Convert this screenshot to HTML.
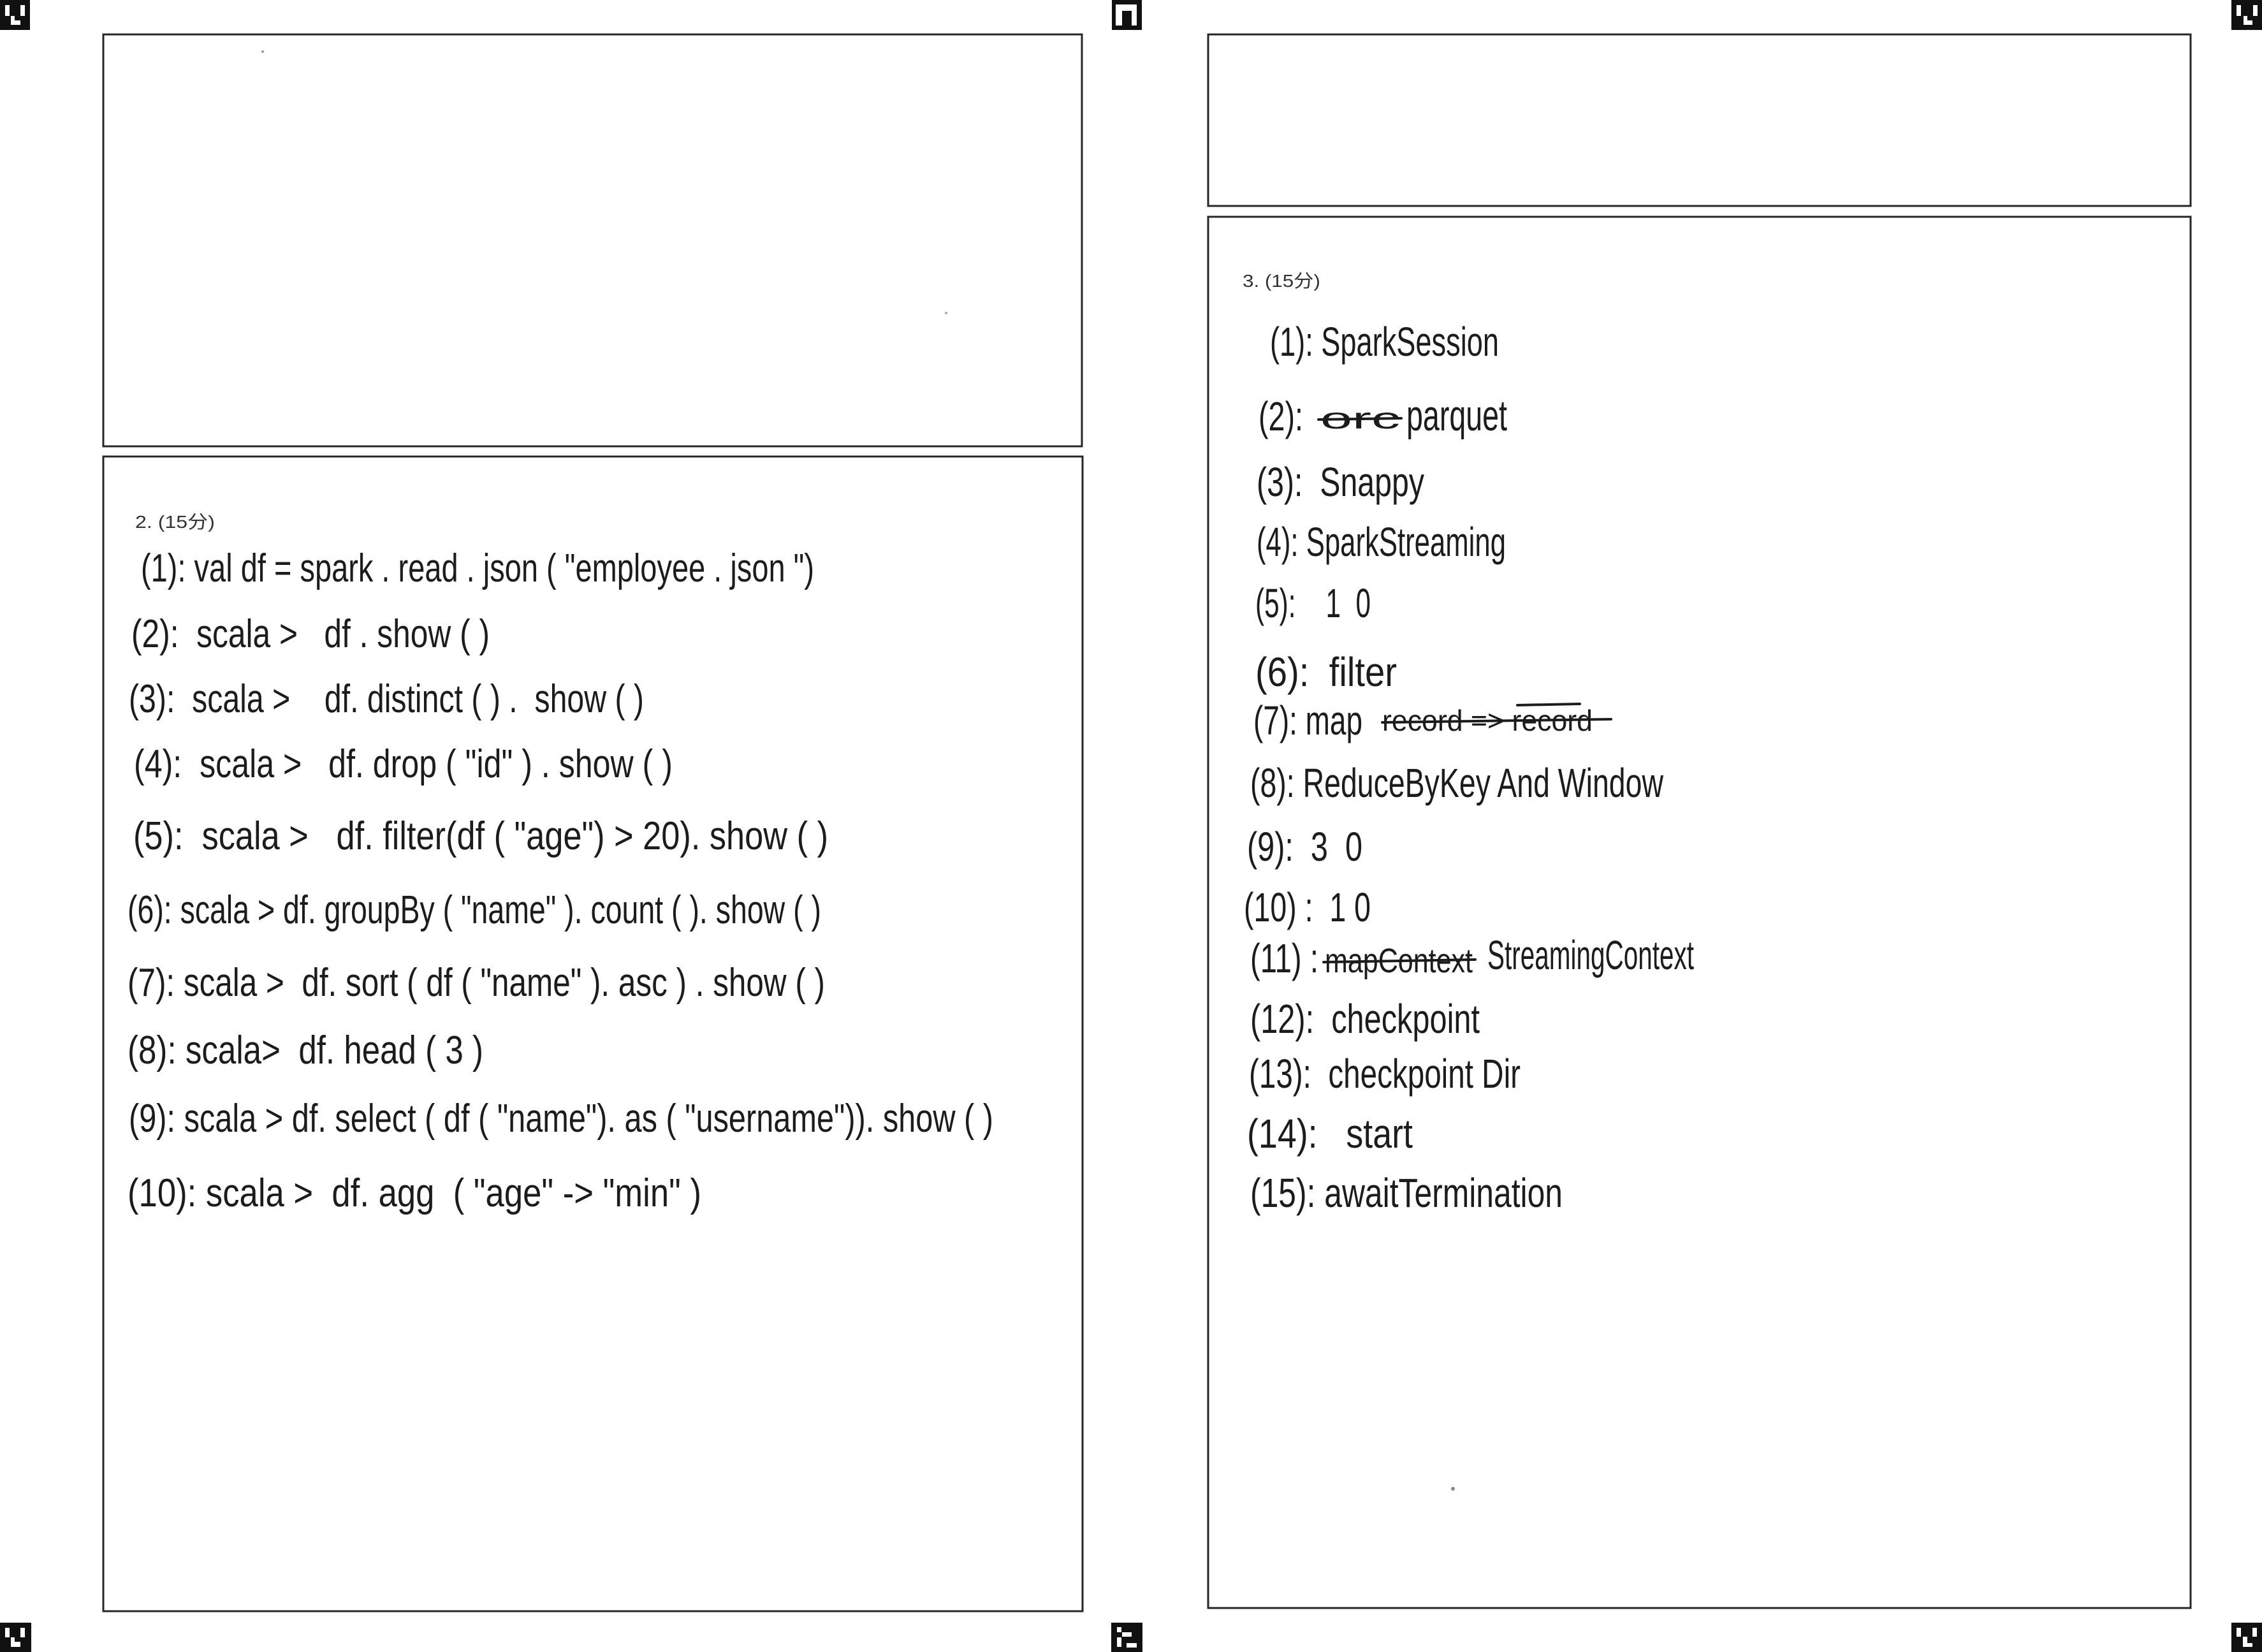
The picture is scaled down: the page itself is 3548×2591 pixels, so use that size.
<!DOCTYPE html>
<html>
<head>
<meta charset="utf-8">
<style>
  html, body { margin: 0; padding: 0; background: #ffffff; }
  body { width: 3548px; height: 2591px; overflow: hidden; }
  svg { display: block; }
  .hw { font-family: "Liberation Sans", "Noto Sans CJK SC", sans-serif; fill: #1c1c1c; }
  .lbl { font-family: "Liberation Sans", "Noto Sans CJK SC", sans-serif; fill: #333333; font-size: 28px; }
  .pre { white-space: pre; }
</style>
</head>
<body>
<svg width="3548" height="2591" viewBox="0 0 3548 2591" xmlns="http://www.w3.org/2000/svg">
  <rect x="0" y="0" width="3548" height="2591" fill="#ffffff"/>

  <!-- corner / registration markers -->
  <g>
    <rect x="0" y="0" width="47" height="47" fill="#111"/>
    <rect x="8" y="8" width="7" height="17" fill="#fff"/>
    <rect x="32" y="8" width="7" height="17" fill="#fff"/>
    <rect x="17" y="25" width="6" height="12" fill="#fff"/>
    <rect x="17" y="32" width="15" height="7" fill="#fff"/>
  </g>
  <g>
    <rect x="1744" y="0" width="47" height="47" fill="#111"/>
    <rect x="1750" y="7" width="33" height="33" fill="#fff"/>
    <rect x="1760" y="17" width="15" height="23" fill="#111"/>
  </g>
  <g>
    <rect x="3500" y="0" width="48" height="47" fill="#111"/>
    <rect x="3508" y="8" width="7" height="17" fill="#fff"/>
    <rect x="3534" y="8" width="7" height="17" fill="#fff"/>
    <rect x="3519" y="25" width="6" height="12" fill="#fff"/>
    <rect x="3519" y="32" width="14" height="7" fill="#fff"/>
  </g>
  <g>
    <rect x="0" y="2545" width="49" height="46" fill="#111"/>
    <rect x="8" y="2553" width="7" height="15" fill="#fff"/>
    <rect x="32" y="2553" width="7" height="15" fill="#fff"/>
    <rect x="17" y="2568" width="6" height="12" fill="#fff"/>
    <rect x="17" y="2575" width="15" height="8" fill="#fff"/>
  </g>
  <g>
    <rect x="1743" y="2545" width="49" height="46" fill="#111"/>
    <rect x="1752" y="2552" width="7" height="8" fill="#fff"/>
    <rect x="1760" y="2560" width="15" height="7" fill="#fff"/>
    <rect x="1752" y="2568" width="7" height="15" fill="#fff"/>
    <rect x="1767" y="2577" width="16" height="7" fill="#fff"/>
  </g>
  <g>
    <rect x="3500" y="2545" width="48" height="46" fill="#111"/>
    <rect x="3508" y="2553" width="7" height="14" fill="#fff"/>
    <rect x="3533" y="2553" width="7" height="14" fill="#fff"/>
    <rect x="3518" y="2567" width="7" height="13" fill="#fff"/>
    <rect x="3518" y="2577" width="15" height="6" fill="#fff"/>
  </g>

  <!-- boxes -->
  <g fill="none" stroke="#262626" stroke-width="3">
    <rect x="162" y="54" width="1535" height="646"/>
    <rect x="162" y="716" width="1536" height="1811"/>
    <rect x="1895" y="54" width="1541" height="269"/>
    <rect x="1895" y="340" width="1541" height="2182"/>
  </g>

  <!-- stray scan specks -->
  <circle cx="412" cy="81" r="2" fill="#999"/>
  <circle cx="1484" cy="491" r="2" fill="#aaa"/>
  <circle cx="2279" cy="2335" r="3" fill="#888"/>

  <!-- LEFT: question 2 -->
  <text class="lbl" x="212" y="828" textLength="125" lengthAdjust="spacingAndGlyphs">2. (15分)</text>

  <g class="hw" font-size="62">
    <text x="221" y="912" textLength="1056" lengthAdjust="spacingAndGlyphs">(1):  val df = spark . read . json ( "employee . json ")</text>
    <text class="pre" x="206" y="1015" textLength="562" lengthAdjust="spacingAndGlyphs">(2):  scala &gt;   df . show ( )</text>
    <text class="pre" x="202" y="1117" textLength="808" lengthAdjust="spacingAndGlyphs">(3):  scala &gt;    df. distinct ( ) .  show ( )</text>
    <text class="pre" x="210" y="1219" textLength="845" lengthAdjust="spacingAndGlyphs">(4):  scala &gt;   df. drop ( "id" ) . show ( )</text>
    <text class="pre" x="209" y="1332" textLength="1090" lengthAdjust="spacingAndGlyphs">(5):  scala &gt;   df. filter(df ( "age") &gt; 20). show ( )</text>
    <text x="200" y="1448" textLength="1088" lengthAdjust="spacingAndGlyphs">(6): scala &gt; df. groupBy ( "name" ). count ( ). show ( )</text>
    <text class="pre" x="200" y="1562" textLength="1094" lengthAdjust="spacingAndGlyphs">(7): scala &gt;  df. sort ( df ( "name" ). asc ) . show ( )</text>
    <text class="pre" x="200" y="1668" textLength="558" lengthAdjust="spacingAndGlyphs">(8): scala&gt;  df. head ( 3 )</text>
    <text x="202" y="1775" textLength="1356" lengthAdjust="spacingAndGlyphs">(9): scala &gt; df. select ( df ( "name"). as ( "username")). show ( )</text>
    <text class="pre" x="200" y="1892" textLength="900" lengthAdjust="spacingAndGlyphs">(10): scala &gt;  df. agg  ( "age" -&gt; "min" )</text>
  </g>

  <!-- RIGHT: question 3 -->
  <text class="lbl" x="1949" y="450" textLength="122" lengthAdjust="spacingAndGlyphs">3. (15分)</text>

  <g class="hw" font-size="64">
    <text x="1992" y="558" textLength="359" lengthAdjust="spacingAndGlyphs">(1):  SparkSession</text>

    <text x="1974" y="675" textLength="70" lengthAdjust="spacingAndGlyphs">(2):</text>
    <text x="2071" y="672" textLength="125" lengthAdjust="spacingAndGlyphs" font-size="46">orc</text>
    <text x="2206" y="675" textLength="158" lengthAdjust="spacingAndGlyphs" font-size="68">parquet</text>

    <text class="pre" x="1971" y="778" textLength="263" lengthAdjust="spacingAndGlyphs">(3):  Snappy</text>
    <text x="1971" y="872" textLength="391" lengthAdjust="spacingAndGlyphs">(4): SparkStreaming</text>
    <text class="pre" x="1969" y="968" textLength="181" lengthAdjust="spacingAndGlyphs">(5):    1  0</text>
    <text class="pre" x="1969" y="1076" textLength="222" lengthAdjust="spacingAndGlyphs">(6):  filter</text>

    <text x="1966" y="1152" textLength="171" lengthAdjust="spacingAndGlyphs">(7): map</text>
    <text x="2168" y="1146" textLength="330" lengthAdjust="spacingAndGlyphs" font-size="46">record =&gt; record</text>

    <text x="1961" y="1250" textLength="648" lengthAdjust="spacingAndGlyphs">(8): ReduceByKey And Window</text>
    <text class="pre" x="1956" y="1350" textLength="181" lengthAdjust="spacingAndGlyphs">(9):  3  0</text>
    <text class="pre" x="1951" y="1445" textLength="199" lengthAdjust="spacingAndGlyphs">(10) :  1 0</text>

    <text x="1961" y="1525" textLength="107" lengthAdjust="spacingAndGlyphs">(11) :</text>
    <text x="2078" y="1525" textLength="232" lengthAdjust="spacingAndGlyphs" font-size="54">mapContext</text>
    <text x="2333" y="1520" textLength="324" lengthAdjust="spacingAndGlyphs">StreamingContext</text>

    <text class="pre" x="1961" y="1620" textLength="360" lengthAdjust="spacingAndGlyphs">(12):  checkpoint</text>
    <text class="pre" x="1959" y="1706" textLength="426" lengthAdjust="spacingAndGlyphs">(13):  checkpoint Dir</text>
    <text class="pre" x="1956" y="1800" textLength="260" lengthAdjust="spacingAndGlyphs">(14):   start</text>
    <text x="1961" y="1893" textLength="490" lengthAdjust="spacingAndGlyphs">(15): awaitTermination</text>
  </g>

  <!-- strike-throughs -->
  <g stroke="#1c1c1c" stroke-width="4" fill="none" stroke-linecap="round">
    <line x1="2068" y1="658" x2="2198" y2="656"/>
    <line x1="2168" y1="1133" x2="2527" y2="1128"/>
    <line x1="2380" y1="1106" x2="2478" y2="1104"/>
    <line x1="2076" y1="1509" x2="2314" y2="1505"/>
  </g>
</svg>
</body>
</html>
